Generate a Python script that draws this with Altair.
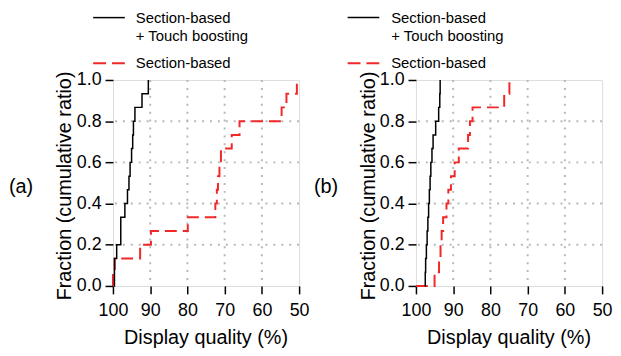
import altair as alt
import pandas as pd

FONT = "Liberation Sans"

# ---- data (display quality %, cumulative fraction) ----
X_TICKS = [100, 90, 80, 70, 60, 50]
Y_TICKS = [0.0, 0.2, 0.4, 0.6, 0.8, 1.0]
GRID_X = [90, 80, 70, 60]
GRID_Y = [0.2, 0.4, 0.6, 0.8]

SERIES = ["Section-based + Touch boosting", "Section-based"]

# panel (a)
a_boost_q = [99.7, 99.6, 99.0, 97.9, 96.8, 96.1, 95.7, 95.4, 95.0, 94.7, 94.5, 94.1, 92.2, 90.5]
a_boost_f = [0.0, 0.133, 0.2, 0.333, 0.4, 0.467, 0.533, 0.6, 0.667, 0.733, 0.8, 0.867, 0.933, 1.0]
a_sect_q = [100, 100, 99.5, 92.7, 89.8, 79.9, 72.5, 72.1, 71.8, 71.4, 71.0, 68.1, 66.0, 54.7, 53.4, 50.6]
a_sect_f = [0.0, 0.067, 0.133, 0.2, 0.267, 0.333, 0.4, 0.467, 0.533, 0.6, 0.667, 0.733, 0.8, 0.867, 0.933, 1.0]

# panel (b)
b_boost_q = [97.6, 97.5, 97.4, 97.2, 97.0, 96.8, 96.6, 96.4, 96.2, 96.0, 95.7, 95.4, 94.7, 93.9, 93.6, 93.5]
b_boost_f = [0.0, 0.067, 0.133, 0.2, 0.267, 0.333, 0.4, 0.467, 0.533, 0.6, 0.667, 0.733, 0.8, 0.867, 0.933, 1.0]
b_sect_q = [100, 95.0, 93.8, 93.4, 93.1, 92.7, 91.8, 91.3, 90.6, 89.6, 88.5, 86.0, 85.5, 84.8, 76.3, 74.9]
b_sect_f = [0.0, 0.067, 0.133, 0.2, 0.267, 0.333, 0.4, 0.467, 0.533, 0.6, 0.667, 0.733, 0.8, 0.867, 0.933, 1.0]

W, H = 188, 208
RED = "#f02828"


def one_row():
    return alt.Data(values=[{"k": 0}])


def panel(boost_q, boost_f, sect_q, sect_f, tag, tag_dx, title_dx, leg_dx, text_dx):
    xs = alt.Scale(domain=[50, 100], reverse=True, nice=False, zero=False)
    ys = alt.Scale(domain=[0, 1], nice=False, zero=False)
    xaxis = alt.Axis(values=X_TICKS, title=None, grid=False, domain=False,
                     tickSize=8, tickWidth=1.5, tickColor="black",
                     labelFontSize=18, labelFont=FONT, labelColor="black",
                     labelPadding=8, labelFlush=False, labelOverlap=False)
    yaxis = alt.Axis(values=Y_TICKS, format=".1f", title=None, grid=False, domain=False,
                     tickSize=8, tickWidth=1.5, tickColor="black",
                     labelFontSize=18, labelFont=FONT, labelColor="black",
                     labelPadding=4, labelFlush=False, labelOverlap=False)
    X = alt.X("q:Q", scale=xs, axis=xaxis)
    Y = alt.Y("f:Q", scale=ys, axis=yaxis)

    gx = alt.Chart(pd.DataFrame({"q": GRID_X})).mark_rule(
        color="#b8b8b8", strokeWidth=2, strokeDash=[2, 6]).encode(x=X)
    gy = alt.Chart(pd.DataFrame({"f": GRID_Y})).mark_rule(
        color="#b8b8b8", strokeWidth=2, strokeDash=[2, 6]).encode(y=Y)

    df_s = pd.DataFrame({"q": sect_q, "f": sect_f, "i": list(range(len(sect_q)))})
    df_b = pd.DataFrame({"q": boost_q, "f": boost_f, "i": list(range(len(boost_q)))})
    red = alt.Chart(df_s).mark_line(color=RED, strokeWidth=2, strokeDash=[12, 6],
                                    interpolate="step-after").encode(x=X, y=Y, order="i:Q")
    blk = alt.Chart(df_b).mark_line(color="black", strokeWidth=1.5,
                                    interpolate="step-after").encode(x=X, y=Y, order="i:Q")

    txt = dict(font=FONT, color="black")
    tag_t = alt.Chart(one_row()).mark_text(text=tag, fontSize=20, align="left",
                                           baseline="middle", **txt).encode(
        x=alt.value(tag_dx), y=alt.value(108))
    ytitle = alt.Chart(one_row()).mark_text(text="Fraction (cumulative ratio)", fontSize=20,
                                            angle=270, align="center", baseline="middle",
                                            **txt).encode(
        x=alt.value(title_dx), y=alt.value(107))
    xtitle = alt.Chart(one_row()).mark_text(text="Display quality (%)", fontSize=20,
                                            align="center", baseline="middle", **txt).encode(
        x=alt.value(W / 2), y=alt.value(261))

    leg_b = alt.Chart(one_row()).mark_rule(color="black", strokeWidth=1.5).encode(
        x=alt.value(leg_dx), x2=alt.value(leg_dx + 32), y=alt.value(-63))
    leg_r = alt.Chart(one_row()).mark_rule(color=RED, strokeWidth=2, strokeDash=[13, 6]).encode(
        x=alt.value(leg_dx), x2=alt.value(leg_dx + 32), y=alt.value(-17))
    l1 = alt.Chart(one_row()).mark_text(text="Section-based", fontSize=15, align="left",
                                        baseline="middle", **txt).encode(
        x=alt.value(text_dx), y=alt.value(-63))
    l2 = alt.Chart(one_row()).mark_text(text="+ Touch boosting", fontSize=15, align="left",
                                        baseline="middle", **txt).encode(
        x=alt.value(text_dx), y=alt.value(-44))
    l3 = alt.Chart(one_row()).mark_text(text="Section-based", fontSize=15, align="left",
                                        baseline="middle", **txt).encode(
        x=alt.value(text_dx), y=alt.value(-17))

    return alt.layer(gx, gy, red, blk, tag_t, ytitle, xtitle, leg_b, leg_r, l1, l2, l3).properties(
        width=W, height=H)


pa = panel(a_boost_q, a_boost_f, a_sect_q, a_sect_f, "(a)", -105, -48, -20, 23)
pb = panel(b_boost_q, b_boost_f, b_sect_q, b_sect_f, "(b)", -103, -47, -69, -25)

chart = alt.hconcat(pa, pb, spacing=118, bounds="flush").properties(
    padding=0
).configure_view(stroke="black", strokeWidth=1.5).configure(font=FONT)

chart.save("out.html", embed_options={"renderer": "svg", "actions": False})
